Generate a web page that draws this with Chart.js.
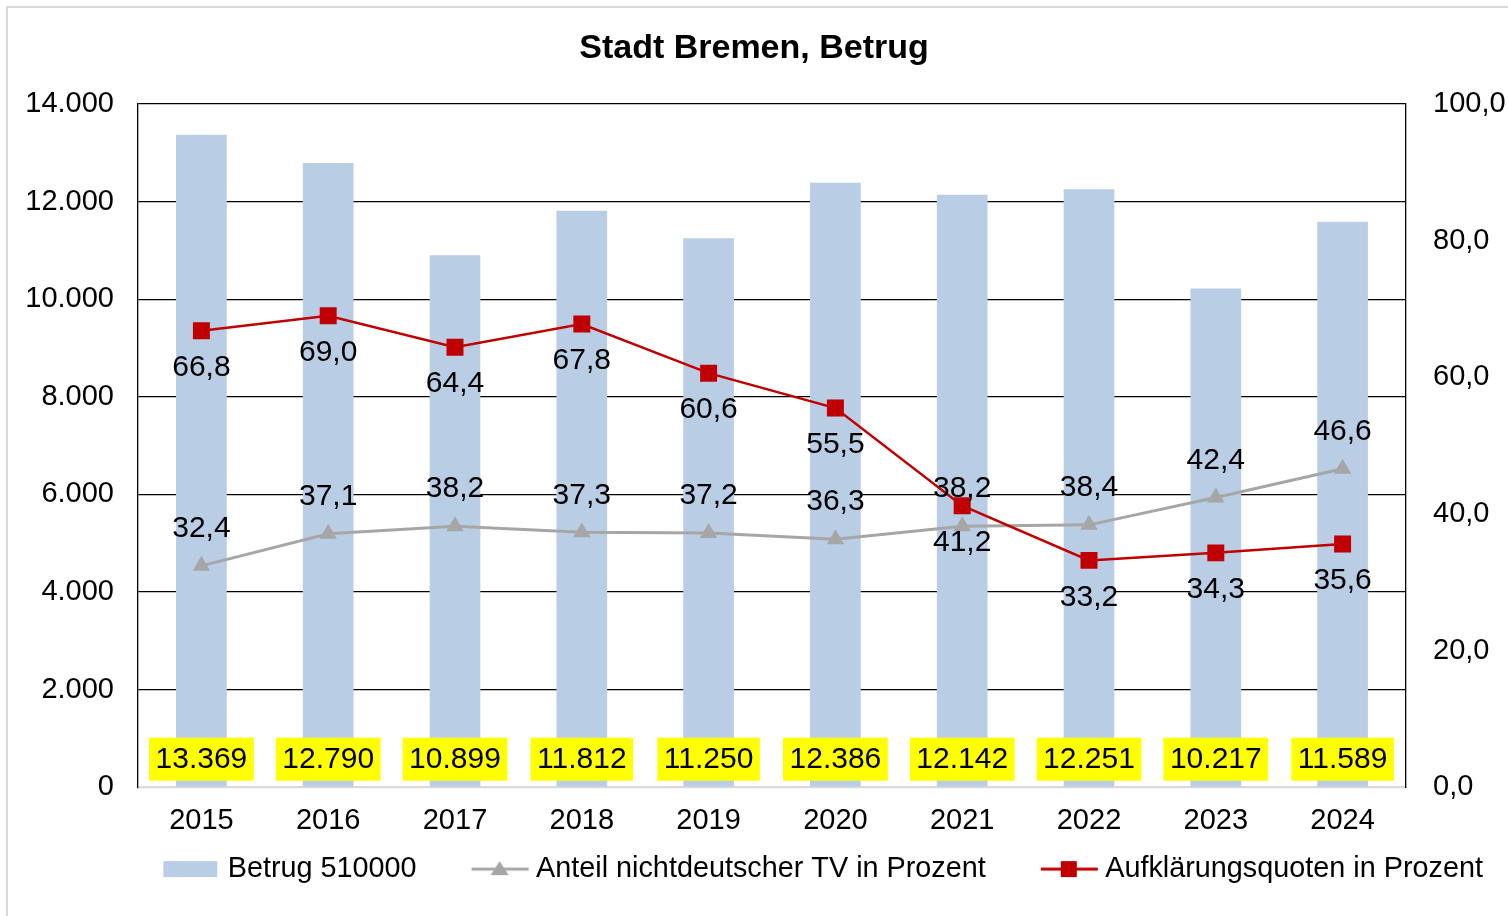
<!DOCTYPE html>
<html>
<head>
<meta charset="utf-8">
<script src="https://cdn.jsdelivr.net/npm/chart.js@4/dist/chart.umd.min.js"></script>
<style>
  body { margin: 0; background: #fff; overflow: hidden; }
  #frame { position: absolute; left: 6px; top: 6px; width: 1530px; height: 940px; border: 2px solid #d9d9d9; }
  #c { position: absolute; left: 0; top: 0; }
</style>
</head>
<body>
<div id="frame"></div>
<canvas id="c" width="1508" height="916"></canvas>
<script>
const years = ['2015', '2016', '2017', '2018', '2019', '2020', '2021', '2022', '2023', '2024'];
const betrug = [13369, 12790, 10899, 11812, 11250, 12386, 12142, 12251, 10217, 11589];
const anteil = [32.4, 37.1, 38.2, 37.3, 37.2, 36.3, 38.2, 38.4, 42.4, 46.6];
const quote = [66.8, 69.0, 64.4, 67.8, 60.6, 55.5, 41.2, 33.2, 34.3, 35.6];
const leftMax = 14000, leftStep = 2000;
const rightMax = 100, rightStep = 20;

const FONT = '"Liberation Sans", Arial, sans-serif';
const barColor = '#b9cde5';
const grayColor = '#a6a6a6';
const redColor = '#c00000';

// German number formatting
function thousands(v) {
  return String(Math.round(v)).replace(/\B(?=(\d{3})+(?!\d))/g, '.');
}
function oneDec(v) {
  return v.toFixed(1).replace('.', ',');
}

// legend icons (box is wider than the icon, blank part on the left makes the gap)
const BOXW = 80;
function makeIcon(type) {
  const cv = document.createElement('canvas');
  cv.width = BOXW + 16; cv.height = 22;
  const g = cv.getContext('2d');
  const x0 = BOXW - 42;
  if (type === 'bar') {
    g.fillStyle = barColor;
    g.fillRect(x0, 3, 54, 16);
  } else if (type === 'tri') {
    g.strokeStyle = grayColor; g.lineWidth = 3;
    g.beginPath(); g.moveTo(x0, 11); g.lineTo(x0 + 57, 11); g.stroke();
    g.fillStyle = grayColor;
    g.beginPath(); g.moveTo(x0 + 28, 3); g.lineTo(x0 + 37, 17); g.lineTo(x0 + 19, 17); g.closePath(); g.fill();
  } else {
    g.strokeStyle = redColor; g.lineWidth = 3;
    g.beginPath(); g.moveTo(x0, 11); g.lineTo(x0 + 57, 11); g.stroke();
    g.fillStyle = redColor;
    g.fillRect(x0 + 20, 3, 16, 16);
  }
  return cv;
}
const icons = [makeIcon('bar'), makeIcon('tri'), makeIcon('sq')];

// value labels
const valueLabels = {
  id: 'valueLabels',
  afterDatasetsDraw(chart) {
    const ctx = chart.ctx;
    ctx.save();
    ctx.font = '30px ' + FONT;
    ctx.textAlign = 'center';
    ctx.textBaseline = 'middle';
    const base = chart.scales.y.getPixelForValue(0);
    chart.getDatasetMeta(0).data.forEach((el, i) => {
      const txt = thousands(betrug[i]);
      const w = ctx.measureText(txt).width + 13;
      const cy = base - 28;
      ctx.fillStyle = '#ffff00';
      ctx.fillRect(el.x - w / 2, cy - 21.5, w, 43);
      ctx.fillStyle = '#000';
      ctx.fillText(txt, el.x, cy + 1);
    });
    chart.getDatasetMeta(1).data.forEach((el, i) => {
      ctx.fillStyle = '#000';
      ctx.fillText(oneDec(anteil[i]), el.x, el.y - 37);
    });
    chart.getDatasetMeta(2).data.forEach((el, i) => {
      ctx.fillStyle = '#000';
      ctx.fillText(oneDec(quote[i]), el.x, el.y + 37);
    });
    ctx.restore();
  }
};

new Chart(document.getElementById('c'), {
  data: {
    labels: years,
    datasets: [
      {
        type: 'bar',
        label: 'Betrug 510000',
        data: betrug,
        yAxisID: 'y',
        backgroundColor: barColor,
        barPercentage: 0.4,
        categoryPercentage: 1,
        order: 3
      },
      {
        type: 'line',
        label: 'Anteil nichtdeutscher TV in Prozent',
        data: anteil,
        yAxisID: 'y1',
        borderColor: grayColor,
        borderWidth: 3,
        pointStyle: 'triangle',
        pointRadius: 10,
        pointBackgroundColor: grayColor,
        pointBorderWidth: 0,
        tension: 0,
        order: 2
      },
      {
        type: 'line',
        label: 'Aufklärungsquoten in Prozent',
        data: quote,
        yAxisID: 'y1',
        borderColor: redColor,
        borderWidth: 2.5,
        pointStyle: 'rect',
        pointRadius: 12,
        pointBackgroundColor: redColor,
        pointBorderWidth: 0,
        tension: 0,
        order: 1
      }
    ]
  },
  options: {
    responsive: false,
    animation: false,
    layout: { padding: { left: 0, right: 0, top: 0, bottom: 22.5 } },
    plugins: {
      title: {
        display: true,
        text: 'Stadt Bremen, Betrug',
        color: '#000',
        font: { family: FONT, size: 34, weight: 'bold' },
        padding: { top: 28.6, bottom: 34.6 }
      },
      legend: {
        position: 'bottom',
        align: 'end',
        labels: {
          color: '#000',
          font: { family: FONT, size: 28.8 },
          usePointStyle: true,
          pointStyleWidth: BOXW,
          boxHeight: 22,
          padding: 25,
          generateLabels: chart => chart.data.datasets.map((ds, i) => ({
            text: ds.label,
            pointStyle: icons[i],
            fillStyle: 'transparent',
            strokeStyle: 'transparent',
            lineWidth: 0,
            fontColor: '#000',
            hidden: false,
            datasetIndex: i
          }))
        }
      },
      tooltip: { enabled: false }
    },
    scales: {
      x: {
        afterFit: s => { s.height = 42.5; },
        grid: { display: false, drawTicks: false },
        border: { color: '#d9d9d9', width: 2 },
        ticks: { color: '#000', font: { family: FONT, size: 29 }, padding: 16 }
      },
      y: {
        position: 'left',
        min: 0,
        max: leftMax,
        afterFit: s => { s.width = 138; },
        grid: {
          color: ctx => ctx.tick && ctx.tick.value === 0 ? '#d9d9d9' : '#000',
          lineWidth: 1.3,
          drawTicks: false
        },
        border: { color: '#000', width: 1.3 },
        ticks: {
          stepSize: leftStep,
          color: '#000',
          padding: 24,
          font: { family: FONT, size: 29 },
          callback: v => thousands(v)
        }
      },
      y1: {
        position: 'right',
        min: 0,
        max: rightMax,
        afterFit: s => { s.width = 102; },
        grid: { display: false, drawTicks: false },
        border: { color: '#000', width: 1.3 },
        ticks: {
          stepSize: rightStep,
          color: '#000',
          padding: 27,
          font: { family: FONT, size: 29 },
          callback: v => oneDec(v)
        }
      }
    }
  },
  plugins: [valueLabels]
});
</script>
</body>
</html>
